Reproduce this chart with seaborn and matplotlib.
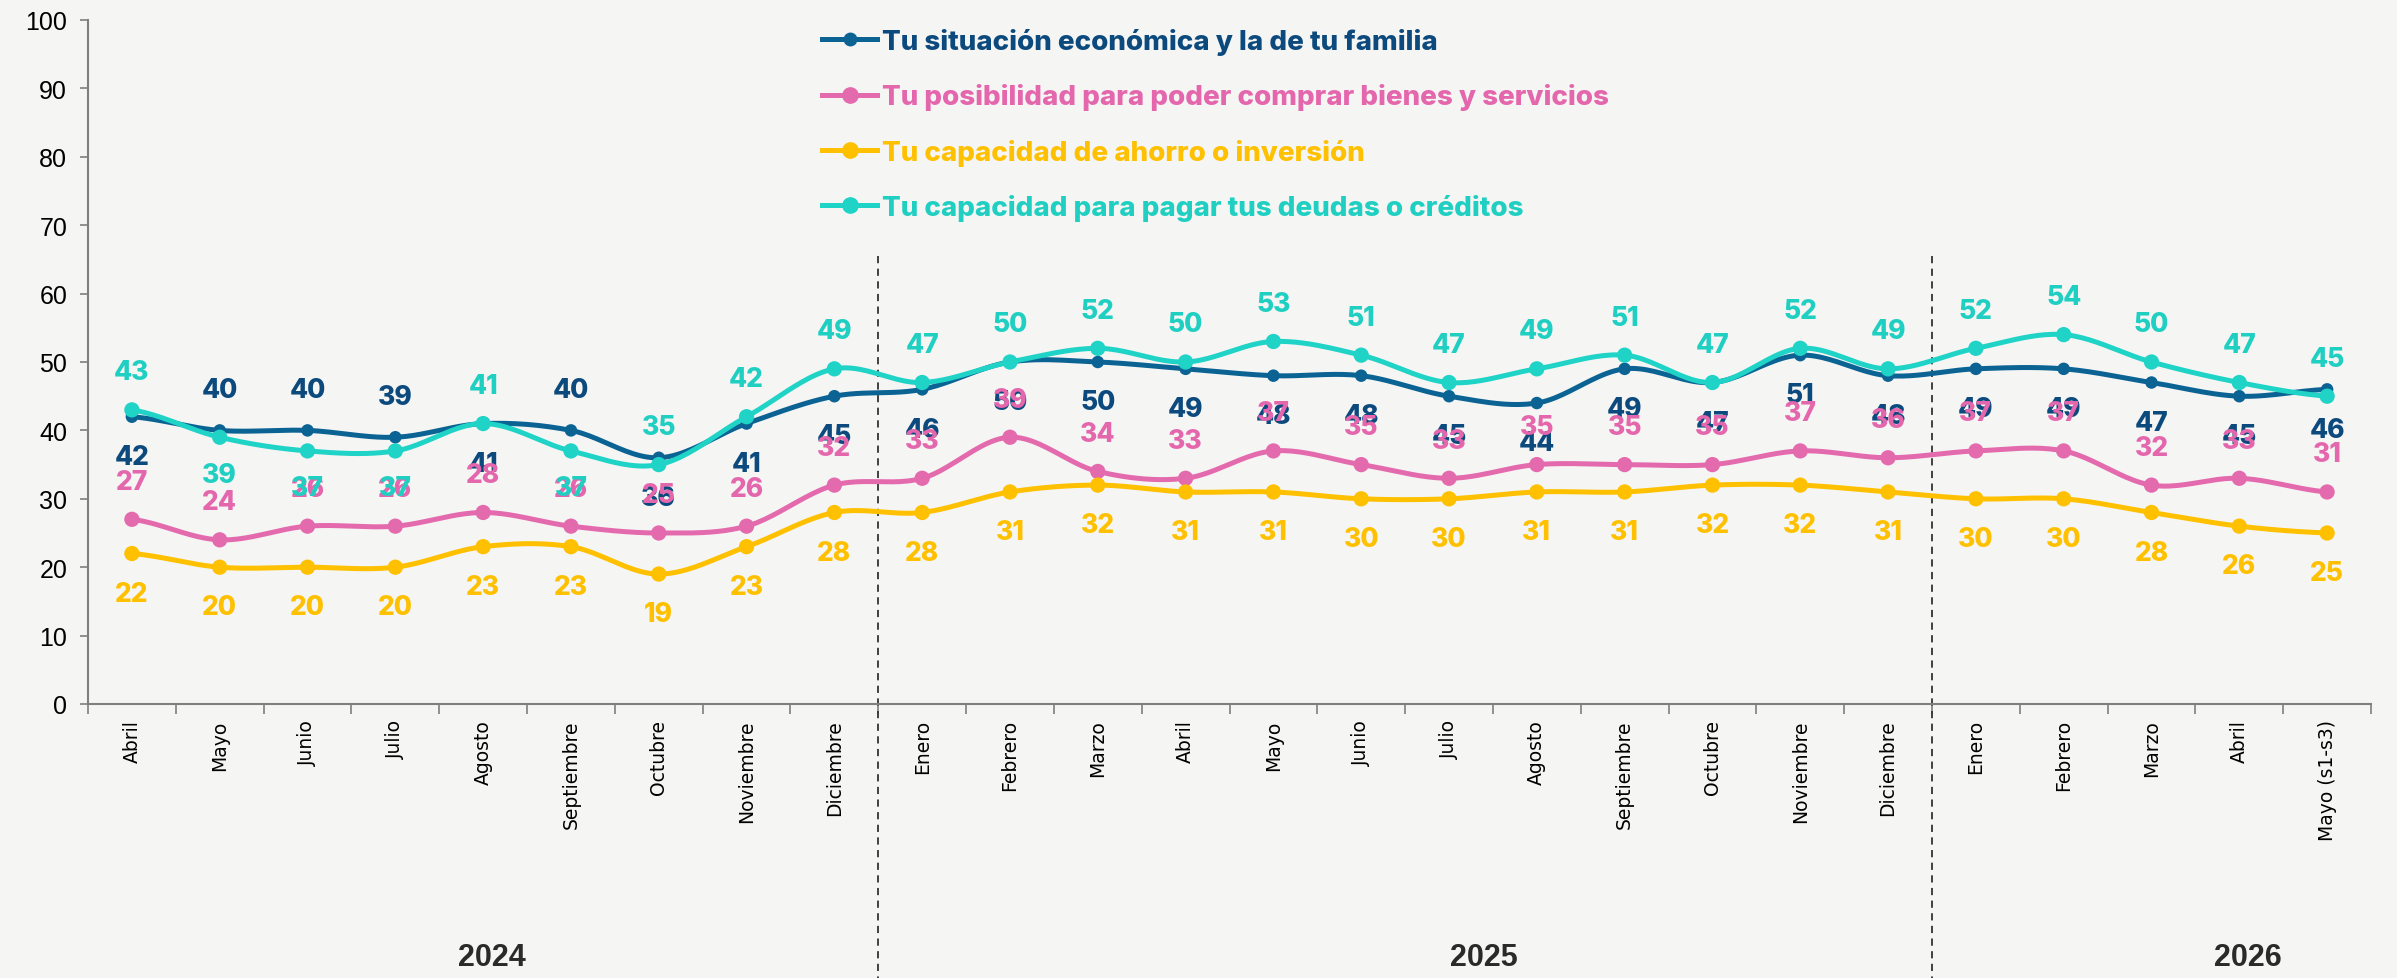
import numpy as np
import pandas as pd
import matplotlib
matplotlib.use("Agg")
import matplotlib.pyplot as plt
import matplotlib.transforms as mtransforms
from matplotlib.lines import Line2D
import seaborn as sns

# ---------------- data ----------------
months = ["Abril", "Mayo", "Junio", "Julio", "Agosto", "Septiembre", "Octubre",
          "Noviembre", "Diciembre",
          "Enero", "Febrero", "Marzo", "Abril", "Mayo", "Junio", "Julio", "Agosto",
          "Septiembre", "Octubre", "Noviembre", "Diciembre",
          "Enero", "Febrero", "Marzo", "Abril", "Mayo (s1-s3)"]
years = ["2024", "2025", "2026"]
year_counts = [9, 12, 5]

situacion = [42, 40, 40, 39, 41, 40, 36, 41, 45,
             46, 50, 50, 49, 48, 48, 45, 44, 49, 47, 51, 48,
             49, 49, 47, 45, 46]
posibilidad = [27, 24, 26, 26, 28, 26, 25, 26, 32,
               33, 39, 34, 33, 37, 35, 33, 35, 35, 35, 37, 36,
               37, 37, 32, 33, 31]
ahorro = [22, 20, 20, 20, 23, 23, 19, 23, 28,
          28, 31, 32, 31, 31, 30, 30, 31, 31, 32, 32, 31,
          30, 30, 28, 26, 25]
deudas = [43, 39, 37, 37, 41, 37, 35, 42, 49,
          47, 50, 52, 50, 53, 51, 47, 49, 51, 47, 52, 49,
          52, 54, 50, 47, 45]

series_names = ["Tu situación económica y la de tu familia",
                "Tu posibilidad para poder comprar bienes y servicios",
                "Tu capacidad de ahorro o inversión",
                "Tu capacidad para pagar tus deudas o créditos"]
series_values = [situacion, posibilidad, ahorro, deudas]

# ---------------- styles ----------------
line_colors = ["#0B6394", "#E46AAE", "#FFC000", "#1FD3C6"]
label_colors = ["#0C4A7E", "#E466AC", "#FFC000", "#1FCFC1"]
# label offsets (points): positive above, negative below
base_offsets = [-29, 27, -29, 27]
blue_above_idx = [1, 2, 3, 5]   # months where the situación label sits above / deudas below
year_label_x = [4.1, 15.4, 24.1]

LABEL_FONT = ["Inter", "DejaVu Sans"]

df = pd.concat([pd.DataFrame({"idx": np.arange(len(months)), "valor": v, "serie": n})
                for n, v in zip(series_names, series_values)], ignore_index=True)

W, H, DPI = 2397, 979, 100
fig = plt.figure(figsize=(W / DPI, H / DPI), dpi=DPI)
fig.patch.set_facecolor("#F5F5F4")
ax = fig.add_axes([88 / W, 1 - 705 / H, (2371 - 88) / W, (705 - 21) / H])
ax.set_facecolor("none")


def smooth(y, n=24):
    y = np.asarray(y, float)
    xs, ys = [], []
    for i in range(len(y) - 1):
        p0 = y[i - 1] if i > 0 else y[i]
        p1, p2 = y[i], y[i + 1]
        p3 = y[i + 2] if i + 2 < len(y) else y[i + 1]
        t = np.linspace(0, 1, n, endpoint=False)
        c1 = p1 + (p2 - p0) / 6
        c2 = p2 - (p3 - p1) / 6
        yy = ((1 - t) ** 3) * p1 + 3 * ((1 - t) ** 2) * t * c1 + 3 * (1 - t) * t ** 2 * c2 + t ** 3 * p2
        xs.append(i + t)
        ys.append(yy)
    xs.append([len(y) - 1])
    ys.append([y[-1]])
    return np.concatenate(xs), np.concatenate(ys)


msizes = [9, 11, 11, 11]
for k, (name, vals) in enumerate(zip(series_names, series_values)):
    sx, sy = smooth(vals)
    ax.plot(sx, sy, color=line_colors[k], lw=3.6, zorder=3 + k, solid_capstyle="round")
    sub = df[df["serie"] == name]
    sns.scatterplot(data=sub, x="idx", y="valor", color=line_colors[k], s=msizes[k] ** 2,
                    edgecolor="none", ax=ax, zorder=3.5 + k, legend=False)

# data labels
for k, vals in enumerate(series_values):
    for i, v in enumerate(vals):
        off = base_offsets[k]
        if i in blue_above_idx and k in (0, 3):
            off = -off
        ax.annotate(f"{v}", (i, v), xytext=(0, off), textcoords="offset points",
                    ha="center", va="center", fontsize=19, fontweight="heavy",
                    color=label_colors[k], family=LABEL_FONT, zorder=10)

ax.set_xlim(-0.5, len(months) - 0.5)
ax.set_ylim(0, 100)
ax.set_yticks(np.arange(0, 101, 10))
ax.set_xticks(np.arange(-0.5, len(months), 1))
ax.set_xticklabels([])
ax.set_xticks(np.arange(len(months)), minor=True)
ax.set_xticklabels(months, minor=True, rotation=90, fontsize=13.5, family="DejaVu Sans")
ax.tick_params(axis="x", which="major", length=7, width=1.2, color="#7f7f7f", direction="out")
ax.tick_params(axis="x", which="minor", length=0, pad=11)
ax.tick_params(axis="y", length=6, width=1.2, color="#7f7f7f", labelsize=18, pad=9)
for lab in ax.get_yticklabels():
    lab.set_family(["Liberation Sans Narrow", "Liberation Sans", "DejaVu Sans"])
ax.set_xlabel("")
ax.set_ylabel("")
for s in ["top", "right"]:
    ax.spines[s].set_visible(False)
for s in ["left", "bottom"]:
    ax.spines[s].set_color("#7f7f7f")
    ax.spines[s].set_linewidth(1.5)

# year separators and labels
blend = mtransforms.blended_transform_factory(ax.transData, ax.transAxes)
bounds = np.cumsum(year_counts)[:-1] - 0.5
for b in bounds:
    ax.plot([b, b], [(705 - 257) / 684, (705 - 979) / 684], transform=blend, color="#333333",
            lw=1.3, ls=(0, (4, 3)), clip_on=False, zorder=2)
for yx, yl in zip(year_label_x, years):
    ax.text(yx, (705 - 958) / 684, yl, transform=blend, ha="center", va="center",
            fontsize=22, fontweight="bold", color="#2a2a2a",
            family=["Liberation Sans Narrow", "Liberation Sans", "DejaVu Sans"])

# legend
handles = [Line2D([0], [0], color=line_colors[k], lw=3.6, marker="o", markersize=msizes[k])
           for k in range(4)]
leg = ax.legend(handles, series_names, loc="upper left", bbox_to_anchor=(808 / W, 1 - 15 / H),
                bbox_transform=fig.transFigure, frameon=False,
                prop={"family": LABEL_FONT, "weight": "heavy", "size": 20},
                handlelength=2.0, handletextpad=0.15, labelspacing=1.02, borderpad=0)
for t, c in zip(leg.get_texts(), label_colors):
    t.set_color(c)

fig.savefig("out.png", dpi=DPI, facecolor=fig.get_facecolor())
